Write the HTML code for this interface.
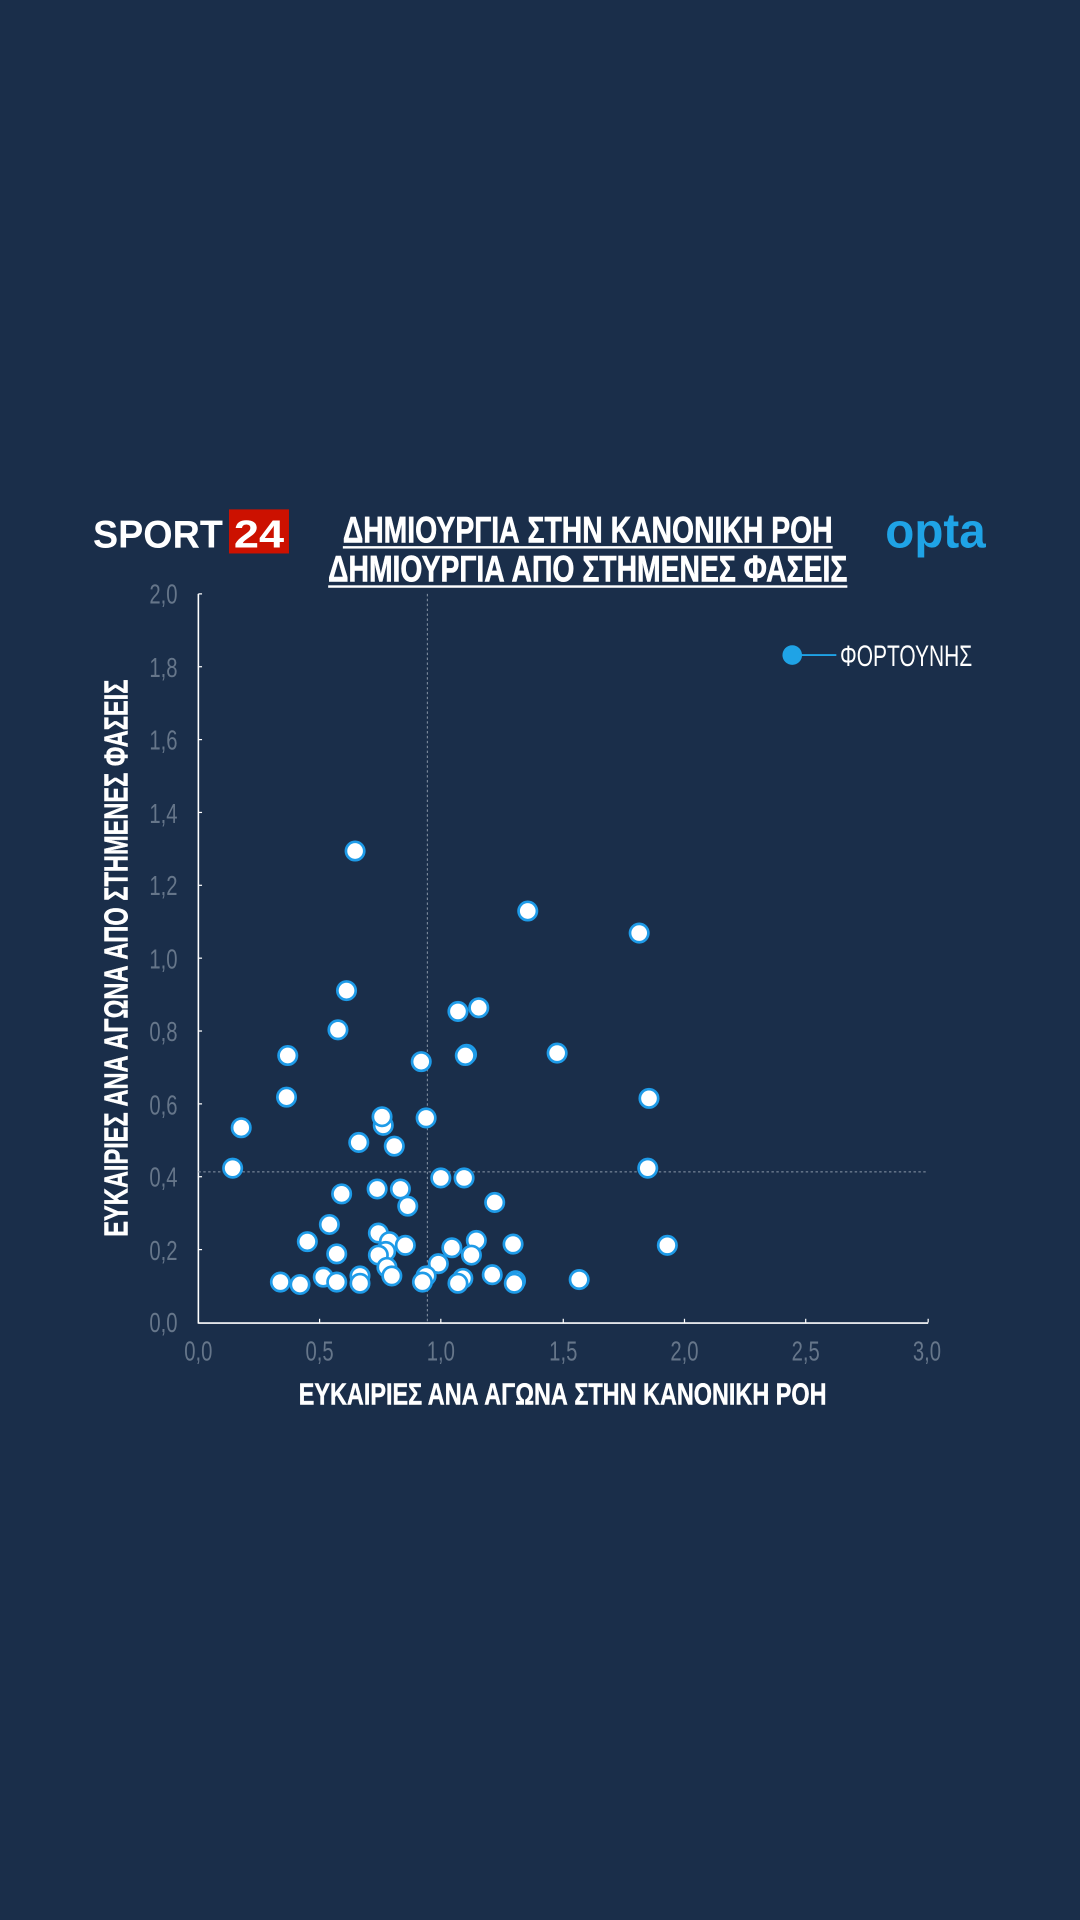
<!DOCTYPE html>
<html><head><meta charset="utf-8"><style>html,body{margin:0;padding:0;background:#1a2e4a;}svg{display:block}</style></head>
<body>
<svg width="1080" height="1920" viewBox="0 0 882 1568" xmlns="http://www.w3.org/2000/svg" font-family="Liberation Sans, DejaVu Sans, sans-serif">
<rect width="882" height="1568" fill="#1a2e4a"/>
<!-- logo -->
<text x="76" y="447" font-size="32" font-weight="bold" fill="#fff" textLength="106" lengthAdjust="spacingAndGlyphs">SPORT</text>
<rect x="187" y="416" width="49" height="36" fill="#cc1100"/>
<text x="191" y="447" font-size="32" font-weight="bold" fill="#fff" textLength="41" lengthAdjust="spacingAndGlyphs">24</text>
<text x="723" y="447" font-size="40" font-weight="bold" fill="#1fa3e6" textLength="82" lengthAdjust="spacingAndGlyphs">opta</text>
<!-- titles -->
<text x="280" y="443" font-size="30" font-weight="bold" fill="#fff" stroke="#fff" stroke-width="0.5" textLength="400" lengthAdjust="spacingAndGlyphs">ΔΗΜΙΟΥΡΓΙΑ ΣΤΗΝ ΚΑΝΟΝΙΚΗ ΡΟΗ</text>
<rect x="280" y="446" width="400" height="2" fill="#fff"/>
<text x="268" y="475" font-size="30" font-weight="bold" fill="#fff" stroke="#fff" stroke-width="0.5" textLength="424" lengthAdjust="spacingAndGlyphs">ΔΗΜΙΟΥΡΓΙΑ ΑΠΟ ΣΤΗΜΕΝΕΣ ΦΑΣΕΙΣ</text>
<rect x="268" y="478" width="424" height="2" fill="#fff"/>
<!-- axes -->
<line x1="162" y1="485" x2="162" y2="1081" stroke="#fff" stroke-width="1.3"/>
<line x1="162" y1="1080.5" x2="758" y2="1080.5" stroke="#fff" stroke-width="1.3"/>
<g stroke="#fff" stroke-width="1">
<line x1="162" y1="485" x2="165" y2="485"/><line x1="162" y1="544.5" x2="165" y2="544.5"/><line x1="162" y1="604" x2="165" y2="604"/><line x1="162" y1="663.5" x2="165" y2="663.5"/><line x1="162" y1="723" x2="165" y2="723"/><line x1="162" y1="782.5" x2="165" y2="782.5"/><line x1="162" y1="842" x2="165" y2="842"/><line x1="162" y1="901.5" x2="165" y2="901.5"/><line x1="162" y1="961" x2="165" y2="961"/><line x1="162" y1="1020.5" x2="165" y2="1020.5"/>
<line x1="261" y1="1080" x2="261" y2="1077"/><line x1="360" y1="1080" x2="360" y2="1077"/><line x1="460" y1="1080" x2="460" y2="1077"/><line x1="559" y1="1080" x2="559" y2="1077"/><line x1="658" y1="1080" x2="658" y2="1077"/><line x1="758" y1="1080" x2="758" y2="1077"/>
</g>
<line x1="349" y1="485" x2="349" y2="1080" stroke="#8a97a8" stroke-width="0.8" stroke-dasharray="2,2"/>
<line x1="162" y1="957" x2="758" y2="957" stroke="#8a97a8" stroke-width="0.8" stroke-dasharray="2,2"/>
<!-- tick labels -->
<g fill="#66768a" font-size="23" text-anchor="end">
<text x="145" y="493" textLength="23" lengthAdjust="spacingAndGlyphs">2,0</text>
<text x="145" y="553" textLength="23" lengthAdjust="spacingAndGlyphs">1,8</text>
<text x="145" y="612" textLength="23" lengthAdjust="spacingAndGlyphs">1,6</text>
<text x="145" y="672" textLength="23" lengthAdjust="spacingAndGlyphs">1,4</text>
<text x="145" y="731" textLength="23" lengthAdjust="spacingAndGlyphs">1,2</text>
<text x="145" y="791" textLength="23" lengthAdjust="spacingAndGlyphs">1,0</text>
<text x="145" y="850" textLength="23" lengthAdjust="spacingAndGlyphs">0,8</text>
<text x="145" y="910" textLength="23" lengthAdjust="spacingAndGlyphs">0,6</text>
<text x="145" y="969" textLength="23" lengthAdjust="spacingAndGlyphs">0,4</text>
<text x="145" y="1029" textLength="23" lengthAdjust="spacingAndGlyphs">0,2</text>
<text x="145" y="1088" textLength="23" lengthAdjust="spacingAndGlyphs">0,0</text>
</g>
<g fill="#66768a" font-size="23" text-anchor="middle">
<text x="162" y="1111" textLength="23" lengthAdjust="spacingAndGlyphs">0,0</text>
<text x="261" y="1111" textLength="23" lengthAdjust="spacingAndGlyphs">0,5</text>
<text x="360" y="1111" textLength="23" lengthAdjust="spacingAndGlyphs">1,0</text>
<text x="460" y="1111" textLength="23" lengthAdjust="spacingAndGlyphs">1,5</text>
<text x="559" y="1111" textLength="23" lengthAdjust="spacingAndGlyphs">2,0</text>
<text x="658" y="1111" textLength="23" lengthAdjust="spacingAndGlyphs">2,5</text>
<text x="757" y="1111" textLength="23" lengthAdjust="spacingAndGlyphs">3,0</text>
</g>
<!-- axis titles -->
<text x="244" y="1147" font-size="25" font-weight="bold" fill="#fff" stroke="#fff" stroke-width="0.4" textLength="431" lengthAdjust="spacingAndGlyphs">ΕΥΚΑΙΡΙΕΣ ΑΝΑ ΑΓΩΝΑ ΣΤΗΝ ΚΑΝΟΝΙΚΗ ΡΟΗ</text>
<text transform="translate(104,1010) rotate(-90)" x="0" y="0" font-size="27" font-weight="bold" fill="#fff" stroke="#fff" stroke-width="0.4" textLength="455" lengthAdjust="spacingAndGlyphs">ΕΥΚΑΙΡΙΕΣ ΑΝΑ ΑΓΩΝΑ ΑΠΟ ΣΤΗΜΕΝΕΣ ΦΑΣΕΙΣ</text>
<!-- legend -->
<line x1="647" y1="535" x2="683" y2="535" stroke="#1fa3e6" stroke-width="1.5"/>
<circle cx="647" cy="535" r="8" fill="#1fa3e6"/>
<text x="686" y="544" font-size="24" fill="#fff" textLength="108" lengthAdjust="spacingAndGlyphs">ΦΟΡΤΟΥΝΗΣ</text>
<!-- points -->
<g fill="#fff" stroke="#1e9be8" stroke-width="2.2">
<circle cx="190" cy="954" r="7.5"/><circle cx="197" cy="921" r="7.5"/><circle cx="235" cy="862" r="7.5"/><circle cx="234" cy="896" r="7.5"/><circle cx="276" cy="841" r="7.5"/><circle cx="283" cy="809" r="7.5"/><circle cx="290" cy="695" r="7.5"/><circle cx="293" cy="933" r="7.5"/><circle cx="313" cy="919" r="7.5"/><circle cx="312" cy="912" r="7.5"/><circle cx="322" cy="936" r="7.5"/><circle cx="344" cy="867" r="7.5"/><circle cx="348" cy="913" r="7.5"/><circle cx="431" cy="744" r="7.5"/><circle cx="522" cy="762" r="7.5"/><circle cx="374" cy="826" r="7.5"/><circle cx="391" cy="823" r="7.5"/><circle cx="381" cy="861" r="7.5"/><circle cx="380" cy="862" r="7.5"/><circle cx="455" cy="860" r="7.5"/><circle cx="530" cy="897" r="7.5"/><circle cx="529" cy="954" r="7.5"/><circle cx="545" cy="1017" r="7.5"/><circle cx="360" cy="962" r="7.5"/><circle cx="379" cy="962" r="7.5"/><circle cx="404" cy="982" r="7.5"/><circle cx="308" cy="971" r="7.5"/><circle cx="327" cy="971" r="7.5"/><circle cx="333" cy="985" r="7.5"/><circle cx="279" cy="975" r="7.5"/><circle cx="269" cy="1000" r="7.5"/><circle cx="251" cy="1014" r="7.5"/><circle cx="275" cy="1024" r="7.5"/><circle cx="309" cy="1007" r="7.5"/><circle cx="318" cy="1014" r="7.5"/><circle cx="331" cy="1017" r="7.5"/><circle cx="315" cy="1022" r="7.5"/><circle cx="309" cy="1025" r="7.5"/><circle cx="369" cy="1019" r="7.5"/><circle cx="389" cy="1013" r="7.5"/><circle cx="385" cy="1025" r="7.5"/><circle cx="419" cy="1016" r="7.5"/><circle cx="358" cy="1032" r="7.5"/><circle cx="316" cy="1035" r="7.5"/><circle cx="320" cy="1042" r="7.5"/><circle cx="229" cy="1047" r="7.5"/><circle cx="245" cy="1049" r="7.5"/><circle cx="264" cy="1043" r="7.5"/><circle cx="275" cy="1047" r="7.5"/><circle cx="294" cy="1042" r="7.5"/><circle cx="294" cy="1048" r="7.5"/><circle cx="348" cy="1042" r="7.5"/><circle cx="345" cy="1047" r="7.5"/><circle cx="378" cy="1044" r="7.5"/><circle cx="374" cy="1048" r="7.5"/><circle cx="402" cy="1041" r="7.5"/><circle cx="421" cy="1046" r="7.5"/><circle cx="420" cy="1048" r="7.5"/><circle cx="473" cy="1045" r="7.5"/>
</g>
</svg>
</body></html>
